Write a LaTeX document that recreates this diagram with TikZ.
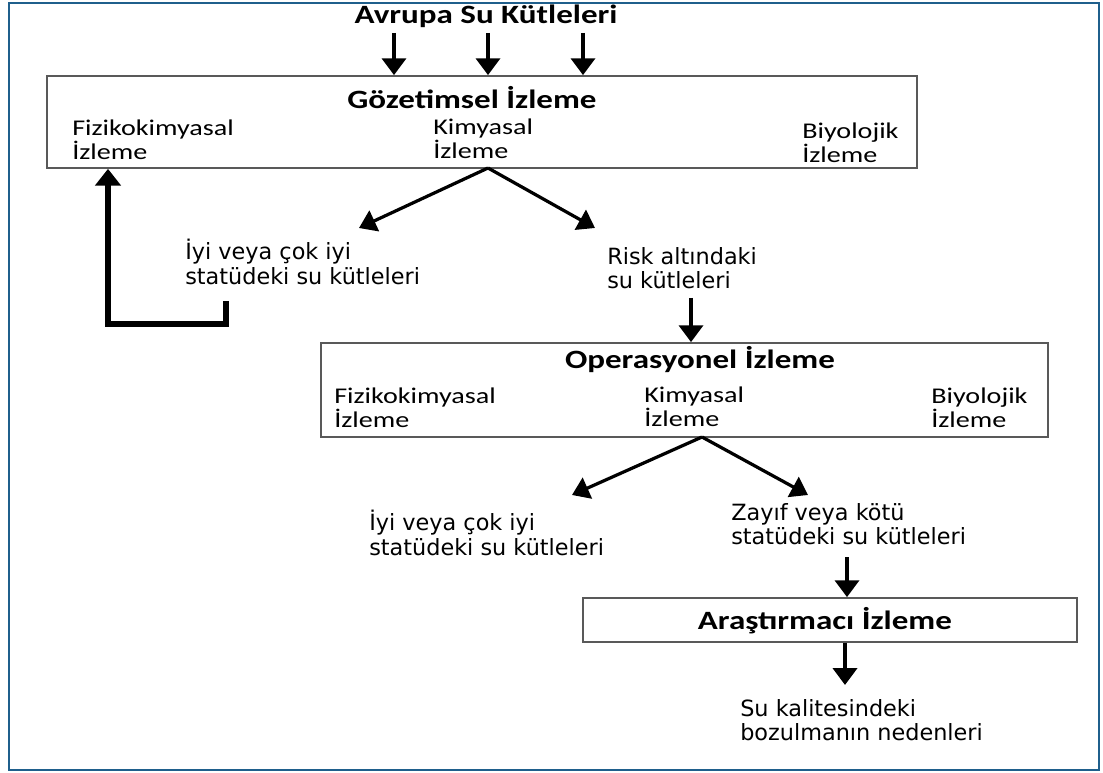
\documentclass[tikz,border=0pt]{standalone}
\usepackage{fontspec}
\newfontfamily\boxfont[FakeStretch=1.25]{Carlito}
\newfontfamily\wfont{DejaVu Sans}
\usetikzlibrary{arrows.meta}
\definecolor{framebl}{RGB}{31,95,140}

\begin{document}
\begin{tikzpicture}[x=0.025cm,y=-0.025cm,
    box/.style={draw=black!65,line width=1.2pt,inner sep=0pt},
    ttl/.style={font=\boxfont\bfseries\fontsize{18.8}{20}\selectfont,inner sep=0pt},
    sub/.style={font=\boxfont\fontsize{16}{17}\selectfont,align=left,anchor=west,inner sep=0pt},
    txt/.style={font=\wfont\fontsize{15.9}{17.5}\selectfont,align=left,anchor=west,inner sep=0pt},
    arr/.style={line width=2.8pt,-{Triangle[length=12pt,width=17pt]}},
    arrd/.style={line width=2.3pt,-{Triangle[length=12pt,width=16pt]}}]
        \useasboundingbox (0,0) rectangle (1103,773);
        \draw[framebl,line width=1.6pt] (9,3) rectangle (1099,770);
        % boxes
        \node[box,minimum width=21.75cm,minimum height=2.3cm] (gozetim) at (482,122) {};
        \node[box,minimum width=18.175cm,minimum height=2.35cm] (operasyon) at (684.5,390) {};
        \node[box,minimum width=12.35cm,minimum height=1.1cm] (arastirma) at (830,620) {};
        % titles
        \node[ttl] (avrupa) at (486,16) {Avrupa Su Kütleleri};
        \node[ttl] (gtitle) at (472,98) {Gözetimsel İzleme};
        \node[ttl] (otitle) at (700,360) {Operasyonel İzleme};
        \node[ttl] (atitle) at (825,621) {Araştırmacı İzleme};
        % sub labels
        \node[sub] (gfiz) at (72,140) {Fizikokimyasal\\İzleme};
        \node[sub] (gkim) at (433,139) {Kimyasal\\İzleme};
        \node[sub] (gbiy) at (802,143) {Biyolojik\\İzleme};
        \node[sub] (ofiz) at (334,408) {Fizikokimyasal\\İzleme};
        \node[sub] (okim) at (644,407) {Kimyasal\\İzleme};
        \node[sub] (obiy) at (931,408) {Biyolojik\\İzleme};
        % outcomes
        \node[txt] (iyi1) at (185,262) {İyi veya çok iyi\\statüdeki su kütleleri};
        \node[txt] (risk) at (607,268) {Risk altındaki\\su kütleleri};
        \node[txt] (iyi2) at (369,533) {İyi veya çok iyi\\statüdeki su kütleleri};
        \node[txt] (zayif) at (731,524) {Zayıf veya kötü\\statüdeki su kütleleri};
        \node[txt] (neden) at (740,720) {Su kalitesindeki\\bozulmanın nedenleri};
        % arrow ends
        \coordinate (g0) at (488,168);
        \coordinate (gl) at (359,228);
        \coordinate (gr) at (595,228);
        \coordinate (o0) at (702,437);
        \coordinate (ol) at (572,495);
        \coordinate (or) at (808,495);
        \coordinate (fb) at (226,301);
        \foreach \x in {394,488,583}{
            \draw[arr] (\x,33) -- (gozetim.north -| {(\x,0)});
        }
        \draw[arrd] (g0) -- (gl);
        \draw[arrd] (g0) -- (gr);
        \draw[arr] (691,298) -- (operasyon.north -| {(691,0)});
        \draw[arrd] (o0) -- (ol);
        \draw[arrd] (o0) -- (or);
        \draw[arr] (847,557) -- (arastirma.north -| {(847,0)});
        \draw[arr] (arastirma.south -| {(845,0)}) -- (845,685);
        \draw[line width=3.8pt,-{Triangle[length=12pt,width=18pt]}] (fb) |- (108,324) -- (gozetim.south -| {(108,0)});
\end{tikzpicture}
\end{document}
